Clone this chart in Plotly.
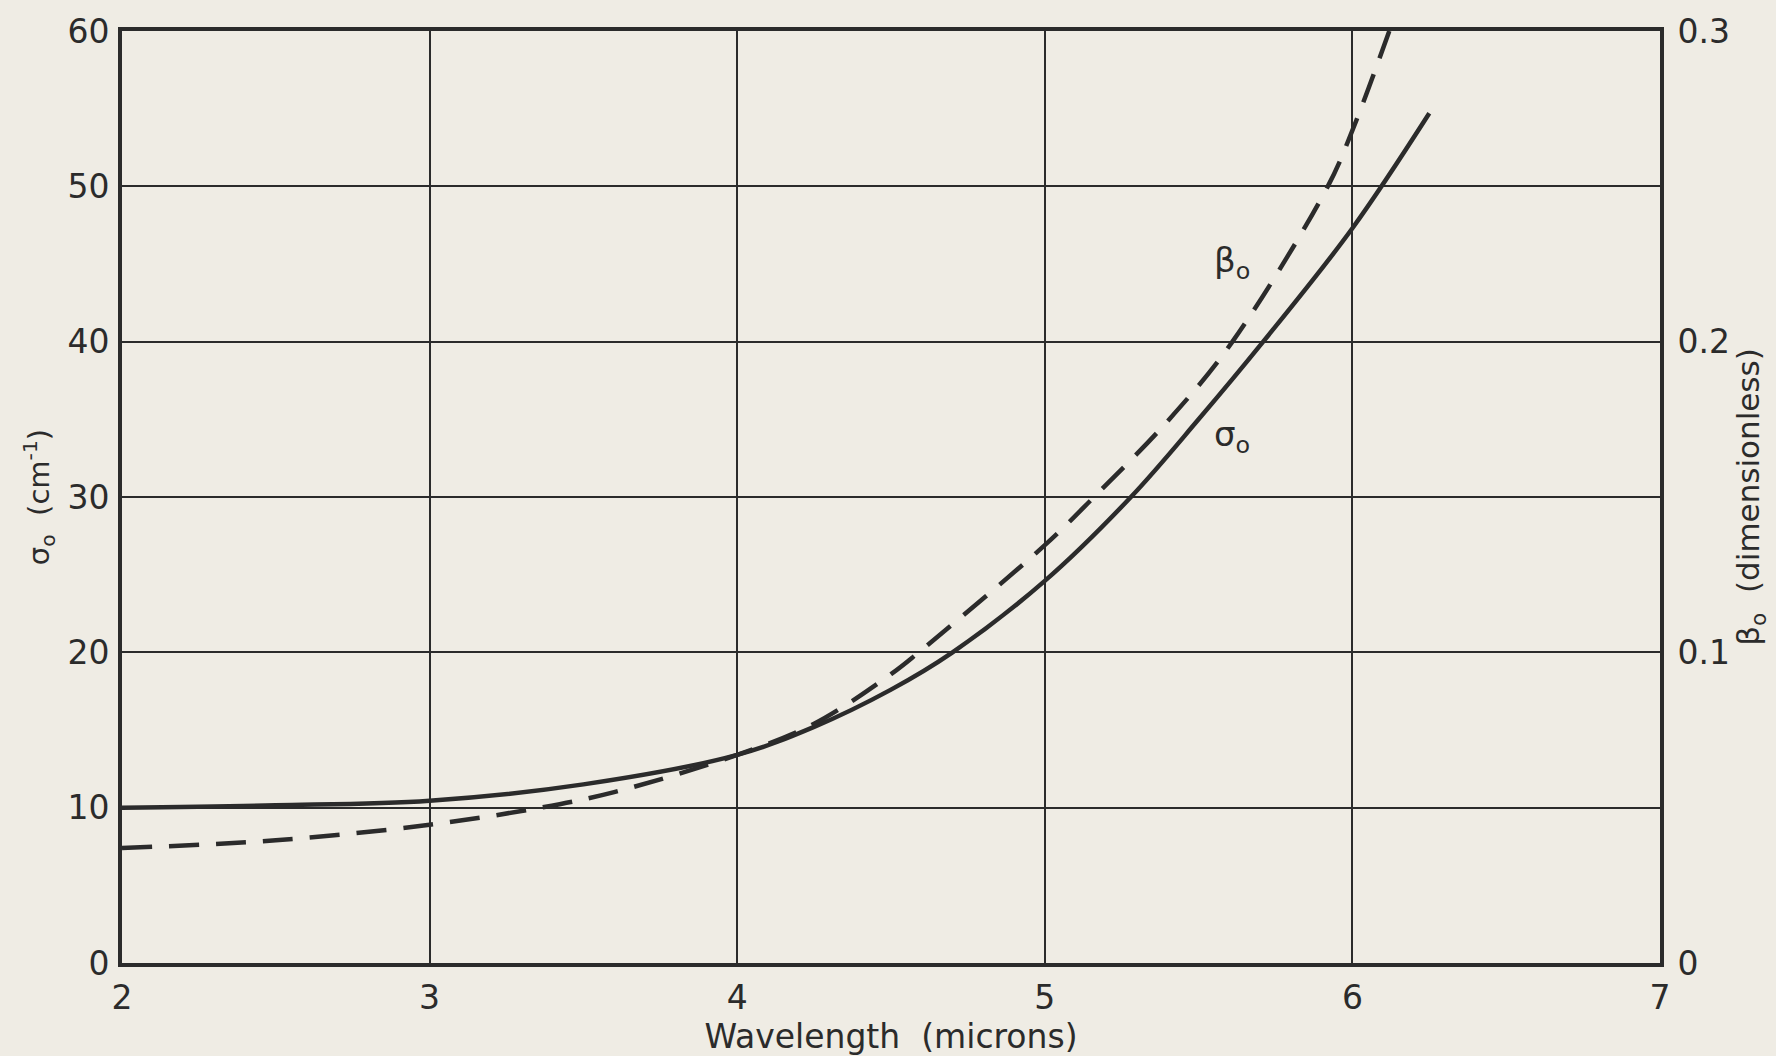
import plotly.graph_objects as go

# sigma_o (cm^-1) vs wavelength (microns) - solid curve
sigma_x = [2.0, 2.5, 3.0, 3.5, 4.0, 4.25, 4.5, 4.7, 5.0, 5.28, 5.5, 5.71, 6.0, 6.25]
sigma_y = [10.0, 10.15, 10.45, 11.5, 13.4, 15.2, 17.6, 20.0, 24.6, 30.0, 35.0, 40.0, 47.3, 54.7]

# beta_o (dimensionless) vs wavelength - dashed curve
beta_x = [2.0, 2.5, 3.0, 3.36, 3.6, 4.0, 4.25, 4.5, 4.59, 5.0, 5.16, 5.4, 5.61, 5.92, 6.0, 6.12]
beta_y = [0.037, 0.0395, 0.0445, 0.050, 0.055, 0.067, 0.077, 0.093, 0.100, 0.1345, 0.150, 0.1745, 0.200, 0.250, 0.268, 0.300]

x_ticks = [2, 3, 4, 5, 6, 7]
y_left_ticks = [0, 10, 20, 30, 40, 50, 60]
y_right_ticks = [0, 0.1, 0.2, 0.3]
y_right_labels = ["0", "0.1", "0.2", "0.3"]

ink = "#2b2b2b"
bg = "#efece4"
font_family = "DejaVu Sans"

fig = go.Figure()
fig.add_trace(go.Scatter(x=sigma_x, y=sigma_y, mode="lines",
                         line=dict(color=ink, width=4.5, shape="spline", smoothing=1.0),
                         showlegend=False, yaxis="y"))
fig.add_trace(go.Scatter(x=beta_x, y=beta_y, mode="lines",
                         line=dict(color=ink, width=4.5, shape="spline", smoothing=1.0, dash="30px,17px"),
                         showlegend=False, yaxis="y2"))

fig.add_annotation(x=5.61, y=45.1, xref="x", yref="y", text="β<sub>o</sub>", showarrow=False,
                   font=dict(size=34, color=ink, family=font_family))
fig.add_annotation(x=5.61, y=33.9, xref="x", yref="y", text="σ<sub>o</sub>", showarrow=False,
                   font=dict(size=34, color=ink, family=font_family))

fig.update_layout(
    width=1776, height=1056,
    margin=dict(l=122, r=116, t=27, b=93),
    paper_bgcolor=bg, plot_bgcolor=bg,
    font=dict(family=font_family, color=ink, size=32),
    xaxis=dict(range=[2, 7], tickvals=x_ticks, showgrid=True, gridcolor=ink, gridwidth=2,
               zeroline=False, showline=True, linecolor=ink, linewidth=4, mirror=True,
               ticks="outside", ticklen=2, tickcolor=bg, tickfont=dict(size=33, family=font_family),
               title=dict(text="Wavelength  (microns)", font=dict(size=33, family=font_family), standoff=2)),
    yaxis=dict(range=[0, 60], tickvals=y_left_ticks, showgrid=True, gridcolor=ink, gridwidth=2,
               zeroline=False, showline=True, linecolor=ink, linewidth=4, mirror=True,
               ticks="outside", ticklen=2, tickcolor=bg, tickfont=dict(size=33, family=font_family),
               title=dict(text="σ<sub>o</sub>  (cm<sup>-1</sup>)", font=dict(size=29, family=font_family), standoff=10)),
    yaxis2=dict(range=[0, 0.3], tickvals=y_right_ticks, ticktext=y_right_labels, overlaying="y",
                side="right", showgrid=False, zeroline=False, showline=False,
                ticks="outside", ticklen=10, tickcolor="rgba(0,0,0,0)",
                tickfont=dict(size=33, family=font_family),
                title=dict(text="β<sub>o</sub>  (dimensionless)", font=dict(size=31, family=font_family), standoff=4)),
)

fig.write_html("out.html")
